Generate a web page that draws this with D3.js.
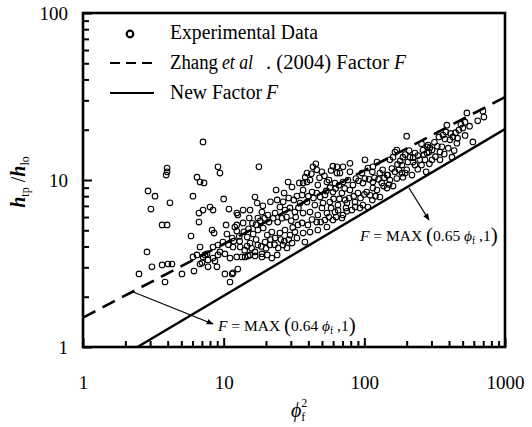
<!DOCTYPE html>
<html><head><meta charset="utf-8">
<script src="https://cdn.jsdelivr.net/npm/d3@7"></script>
<style>
html,body{margin:0;padding:0;background:#fff;}
svg, svg text{font-family:'Liberation Serif','Tinos','Times New Roman','DejaVu Serif',serif;}
</style></head>
<body><svg id="c" width="532" height="427" font-family="'Liberation Serif','DejaVu Serif',serif"></svg>
<script>
// ---- data (phi_f^2 , h_tp/h_lo) ----
const experimental = [
[3.96,11.8],[3.96,11.2],[3.9,10.7],[2.90,8.6],[3.25,8.0],[4.15,7.3],[3.04,6.7],[3.65,5.38],[3.96,5.38],[5.86,4.62],
[2.85,3.71],[3.09,3.02],[2.50,2.74],[3.65,3.10],[4.02,3.14],[4.29,3.14],[3.83,2.45],[5.05,2.74],[6.05,3.46],[6.15,2.85],
[6.46,10.4],[6.79,9.73],[7.25,9.6],[6.05,8.0],[6.67,6.34],[6.67,5.6],[7.13,16.9],[9.11,12.0],[9.41,11.0],[17.8,12.0],
[8.0,6.89],[8.40,6.61],[10.0,7.7],[10.9,6.7],[8.27,5.02],[8.55,4.81],[10.4,5.38],[10.55,4.75],[12.4,5.38],[12.6,6.17],
[13.75,6.61],[15.4,6.61],[16.7,7.91],[17.3,7.28],[23.6,8.71],[28.7,9.73],[30.6,9.08],[33.2,8.02],[26.9,8.36],[36.7,8.71],
[42.5,8.47],[39.1,9.73],[45.2,12.5],[45.9,11.5],[49.9,11.2],[59.8,12.1],[63.9,11.0],[6.79,3.14],[7.13,3.46],[7.61,3.61],
[7.74,3.02],[8.67,3.27],[8.96,3.02],[10.2,2.74],[11.1,2.45],[11.5,2.74],[12.6,2.93],[9.41,3.71],[10.2,3.61],[12.4,4.95],
[11.65,3.97],[13.1,3.97],[14.7,4.02],[13.5,3.46],[14.9,3.51],[16.7,3.51],[18.7,3.61],[14.7,4.55],[16.2,4.75],[6.79,3.97],
[8.40,3.97],[6.46,3.56],[7.13,6.61],[12.4,6.34],[12.0,5.23],[13.75,5.53],[15.2,5.92],[17.5,5.92],[18.7,6.43],[20.6,6.17],
[23.2,6.34],[25.1,6.89],[27.3,6.61],[29.6,6.80],[32.1,6.43],[9.11,4.08],[9.87,4.25],[11.5,4.49],[17.5,5.02],[19.1,5.16],
[20.4,4.68],[22.0,4.88],[23.2,4.49],[25.1,4.81],[27.3,5.02],[29.6,4.68],[32.1,4.88],[33.7,5.38],[7.36,3.56],[7.74,3.32],
[7.02,3.19],[8.40,3.41],[9.11,3.56],[11.1,3.41],[12.4,3.46],[14.2,3.46],[15.4,3.56],[16.7,3.71],[17.5,4.08],[18.7,3.46],
[20.4,3.56],[22.0,3.41],[24.0,3.56],[24.4,3.92],[26.4,4.08],[28.2,3.92],[30.6,4.19],[33.2,4.49],[19.7,4.25],[21.3,4.08],
[15.4,4.19],[11.65,2.78],
[39.1,11.0],[67.1,11.0],[79,11.2],[96.2,11.0],[114,11.2],[129,11.0],[147,10.7],[165,11.2],
[36.7,9.59],[41.1,10.0],[46.7,9.33],[54.2,9.73],[61.8,9.59],[70.5,9.73],[83,9.33],[97.7,9.59],[115,9.73],[133,9.59],[152,10.0],
[36.1,8.13],[45.9,8.36],[52.5,8.13],[59.8,8.47],[69.3,8.36],[79,8.71],[90.1,8.36],[104,8.47],[123,8.71],[145,8.95],
[34.9,7.28],[39.1,7.38],[44.5,7.08],[50.8,7.28],[56.9,7.38],[64.9,7.08],[75.2,7.28],[85.8,7.38],[97.7,7.08],[114,7.59],[129,7.91],
[36.7,6.34],[41.1,6.43],[46.7,6.17],[54.2,6.34],[61.8,6.43],[70.5,6.17],[81.6,6.61],[93.1,6.80],[106,6.89],
[36.1,5.53],[39.7,5.38],[45.9,5.60],[52.5,5.76],[59.8,5.76],[69.3,5.92],
[36.7,4.81],[41.1,4.88],[46.7,5.02],[54.2,5.23],[37.8,4.25],
[200,18.3],[386,21.3],[470,19.9],[502,20.5],[486,21.6],[362,18.6],[374,17.6],[406,17.4],[426,18.1],[536,25.2],
[697,25.8],[708,23.8],[420,13.7],[345,13.2],[303,13.2],[591,16.9],[356,15.8],[345,14.7],[279,15.8],[261,15.1],
[303,15.1],[270,13.2],[248,13.2],[222,13.6],[204,12.8],[188,13.7],[185,12.3],[200,11.5],[218,10.7],[188,10.4],
[229,12.3],[279,14.5],[284,16.2],[339,18.1],[160,13.7],[170,15.1],[152,13.2],[123,12.8],[115,12.0],[106,11.8],
[101,13.2],[79,12.6],[70.5,12.0],[63.9,12.0],[43.1,12.0],[135,11.5],[145,10.7],[115,8.95],[275,11.2],[176,11.5],
[222,12.8],[211,13.7],[229,14.5],[288,14.7],[165,14.7],
[10.8,4.1],[11.8,4.3],[12.9,4.6],[13.9,4.9],[15.0,5.1],[16.0,5.5],[17.0,5.4],[18.2,5.7],[19.5,5.9],[21.0,5.6],
[22.5,5.9],[24.2,5.6],[26.0,5.9],[28.0,6.0],[30.2,5.7],[32.5,6.0],[34.0,6.8],[13.0,4.3],[14.1,3.8],[15.8,3.9],
[17.0,4.4],[18.5,4.0],[20.0,3.9],[21.5,4.4],[23.0,4.1],[25.5,4.4],[27.0,4.3],[29.0,4.4],[31.0,5.2],[19.0,7.0],
[21.5,7.4],[24.0,7.6],[26.5,7.4],[29.0,7.8],[31.5,7.6],[34.5,9.6],[38.0,10.4],[42.0,10.9],[48.0,10.3],[52.0,10.6],
[56.0,10.0],[58.0,11.4],[40.0,8.0],[43.5,7.8],[48.5,7.9],[53.5,8.6],[57.0,9.0],[62.5,8.9],[66.0,9.3],[72.5,8.9],
[76.5,10.0],[87.0,10.2],[91.0,9.9],[101,10.2],[108,10.1],[118,10.3],[126,10.1],[139,10.3],[157,11.7],[172,12.4],
[180,13.0],[195,14.2],[208,15.0],[240,14.0],[255,16.5],[265,14.2],[292,15.6],[315,16.8],[330,15.9],[380,19.4],
[410,19.0],[445,19.2],[455,16.6],[520,22.2],[560,21.0],[640,22.6],[60.5,7.7],[66.5,7.7],[73.0,7.6],[78.0,7.8],
[84.0,8.0],[94.0,7.8],[100,8.2],[110,8.1],[120,8.0],[137,9.2],[150,9.4],[160,9.2],[170,10.2],[185,11.0],
[195,11.0],[240,11.6],[255,12.3],[290,12.5],[320,13.8],[370,14.3],[395,15.5],[435,15.0],[460,17.8],[520,18.5],
[50.0,6.8],[58.0,6.8],[65.0,6.6],[74.0,6.8],[86.0,6.9],[42.5,5.8],[49.0,5.6],[56.0,6.0],[63.0,6.0],[75.0,6.5]
];
const zhangLine = [[1,1.5],[1000,31.4]];   // Zhang et al. (2004) Factor F
const newLine = [[2.44,1],[1000,20.2]];    // New Factor F
const xTicks = [1,10,100,1000];
const yTicks = [1,10,100];
const xMinor = [2,3,4,5,6,7,8,9,20,30,40,50,60,70,80,90,200,300,400,500,600,700,800,900];
const yMinor = [2,3,4,5,6,7,8,9,20,30,40,50,60,70,80,90];

const FONT = "'Liberation Serif','DejaVu Serif',serif";
const svg = d3.select("#c");
const L=83,R=505,T=13,B=347;
const x = d3.scaleLog().domain([1,1000]).range([L,R]);
const y = d3.scaleLog().domain([1,100]).range([B,T]);

const defs = svg.append("defs");
defs.append("marker").attr("id","ah").attr("viewBox","0 0 10 10").attr("refX",9).attr("refY",5)
  .attr("markerWidth",7).attr("markerHeight",7).attr("orient","auto").attr("markerUnits","userSpaceOnUse")
  .append("path").attr("d","M0,1 L10,5 L0,9 z").attr("fill","#000");

const plot = svg.append("g");
plot.append("clipPath").attr("id","clip").append("rect").attr("x",L).attr("y",T).attr("width",R-L).attr("height",B-T);

plot.append("g").attr("clip-path","url(#clip)").selectAll("circle").data(experimental).join("circle")
  .attr("cx",d=>x(d[0])).attr("cy",d=>y(d[1])).attr("r",2.8)
  .attr("fill","none").attr("stroke","#000").attr("stroke-width",1.1);

const line = d3.line().x(d=>x(d[0])).y(d=>y(d[1]));
plot.append("path").attr("clip-path","url(#clip)").attr("d",line(zhangLine)).attr("fill","none")
  .attr("stroke","#000").attr("stroke-width",2.6).attr("stroke-dasharray","14,8");
plot.append("path").attr("clip-path","url(#clip)").attr("d",line(newLine)).attr("fill","none")
  .attr("stroke","#000").attr("stroke-width",2.4);

const fmt = d3.format("d");
const gx = svg.append("g").attr("transform",`translate(0,${B})`)
  .call(d3.axisBottom(x).tickValues(xTicks).tickFormat(fmt).tickSize(-9).tickPadding(29));
const gxm = svg.append("g").attr("transform",`translate(0,${B})`)
  .call(d3.axisBottom(x).tickValues(xMinor).tickFormat("").tickSize(-6));
const gy = svg.append("g").attr("transform",`translate(${L},0)`)
  .call(d3.axisLeft(y).tickValues(yTicks).tickFormat(fmt).tickSize(-9).tickPadding(15));
const gym = svg.append("g").attr("transform",`translate(${L},0)`)
  .call(d3.axisLeft(y).tickValues(yMinor).tickFormat("").tickSize(-6));
[gx,gxm,gy,gym].forEach(g=>{
  g.attr("font-family",FONT);
  g.select(".domain").remove();
  g.selectAll(".tick line").attr("stroke","#000").attr("stroke-width",2);
  g.selectAll("text").attr("font-family",FONT).attr("font-size",19).attr("fill","#000");
});
gy.selectAll("text").attr("dy","0.36em");

svg.append("rect").attr("x",L).attr("y",T).attr("width",R-L).attr("height",B-T)
  .attr("fill","none").attr("stroke","#000").attr("stroke-width",2.6);

// legend
const lg = svg.append("g").attr("font-size",20).attr("font-family",FONT);
function ltxt(xp, yp, s, len, italic){
  const t = lg.append("text").attr("x",xp).attr("y",yp).text(s)
    .attr("textLength",len).attr("lengthAdjust","spacingAndGlyphs");
  if(italic) t.attr("font-style","italic");
}
lg.append("circle").attr("cx",130).attr("cy",34).attr("r",3.3).attr("fill","none").attr("stroke","#000").attr("stroke-width",2.2);
ltxt(170,39,"Experimental Data",148);
lg.append("line").attr("x1",110).attr("x2",152).attr("y1",63).attr("y2",63).attr("stroke","#000").attr("stroke-width",2.2).attr("stroke-dasharray","10,6");
ltxt(170,69,"Zhang",48);
ltxt(222,69,"et al",31,true);
ltxt(266,69,". (2004) Factor",123);
ltxt(394,69,"F",12,true);
lg.append("line").attr("x1",110).attr("x2",154).attr("y1",93).attr("y2",93).attr("stroke","#000").attr("stroke-width",2.2);
ltxt(170,99,"New Factor",92);
ltxt(266,99,"F",12,true);

function eqLabel(xp, yp, coef){
  const t = svg.append("text").attr("x",xp).attr("y",yp).attr("font-size",15.5).attr("font-family",FONT);
  t.append("tspan").attr("font-style","italic").text("F");
  t.append("tspan").text(" = MAX ");
  t.append("tspan").attr("font-size",21).attr("dy",1).text("(");
  t.append("tspan").attr("dy",-1).text(coef+" ");
  t.append("tspan").attr("font-style","italic").text("\u03d5");
  t.append("tspan").attr("font-size",9.5).attr("dy",3).text("f");
  t.append("tspan").attr("dy",-3).text(" ,1");
  t.append("tspan").attr("font-size",21).attr("dy",1).text(")");
}
svg.append("line").attr("x1",x(2.23)).attr("y1",y(2.15)).attr("x2",213).attr("y2",324)
  .attr("stroke","#000").attr("stroke-width",1.3).attr("marker-end","url(#ah)");
eqLabel(218,331,"0.64");
svg.append("line").attr("x1",409).attr("y1",188).attr("x2",429).attr("y2",220)
  .attr("stroke","#000").attr("stroke-width",1.3).attr("marker-end","url(#ah)");
eqLabel(360,241,"0.65");

const yl = svg.append("text").attr("transform","translate(25,182) rotate(-90)").attr("text-anchor","middle").attr("font-size",20).attr("font-family",FONT);
yl.append("tspan").attr("font-style","italic").attr("font-weight","bold").text("h");
yl.append("tspan").attr("font-size",12).attr("dy",4).text("tp");
yl.append("tspan").attr("dy",-4).text(" /");
yl.append("tspan").attr("font-style","italic").attr("font-weight","bold").text("h");
yl.append("tspan").attr("font-size",12).attr("dy",4).text("lo");

const xl = svg.append("text").attr("x",291).attr("y",417).attr("font-size",20).attr("font-family",FONT);
xl.append("tspan").attr("font-style","italic").text("\u03d5");
xl.append("tspan").attr("font-size",12).attr("dy",-10).text("2");
xl.append("tspan").attr("font-size",12).attr("dx",-6).attr("dy",14).text("f");
</script></body></html>
